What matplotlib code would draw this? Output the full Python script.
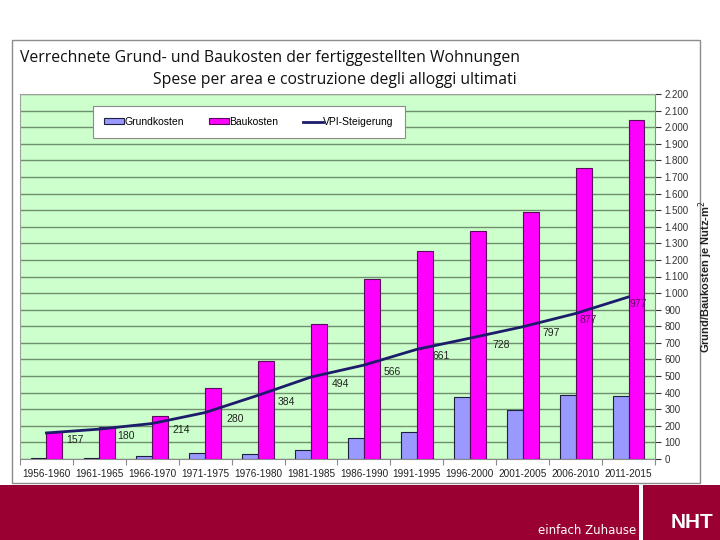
import matplotlib
matplotlib.use("Agg")
import matplotlib.pyplot as plt
from matplotlib.patches import Rectangle
from matplotlib.ticker import FuncFormatter
import numpy as np

categories = ["1956-1960", "1961-1965", "1966-1970", "1971-1975", "1976-1980", "1981-1985",
              "1986-1990", "1991-1995", "1996-2000", "2001-2005", "2006-2010", "2011-2015"]
grundkosten = [5, 8, 20, 36, 28, 54, 127, 163, 373, 295, 386, 380]
baukosten = [160, 190, 260, 430, 590, 815, 1085, 1254, 1374, 1489, 1754, 2043]
vpi = [157, 180, 214, 280, 384, 494, 566, 661, 728, 797, 877, 977]
vpi_labels = ["157", "180", "214", "280", "384", "494", "566", "661", "728", "797", "877", "977"]
label_dx = [0.53, 0.5, 0.55, 0.57, 0.53, 0.55, 0.53, 0.46, 0.6, 0.54, 0.23, 0.19]
yticks = list(range(0, 2201, 100))

ARIAL = "Liberation Sans"

fig = plt.figure(figsize=(7.2, 5.4), dpi=100)

# outer frame
fig.patches.append(Rectangle((12/720, 1-483/540), (700-12)/720, (483-40)/540,
                             transform=fig.transFigure, facecolor="white",
                             edgecolor="#8c8c8c", linewidth=1.0, zorder=-2))
# bottom band
fig.patches.append(Rectangle((0, 0), 639/720, 55/540, transform=fig.transFigure,
                             facecolor="#9a0032", edgecolor="none", zorder=-2))
fig.patches.append(Rectangle((643/720, 0), 77/720, 55/540, transform=fig.transFigure,
                             facecolor="#9a0032", edgecolor="none", zorder=-2))

ax = fig.add_axes([20/720, 1-459/540, 635/720, 365/540])
ax.set_zorder(2)
ax.set_facecolor("#ccffcc")
x = np.arange(len(categories))
w = 0.3
b1 = ax.bar(x - w/2, grundkosten, width=w, color="#9999ff", edgecolor="#1f1f3f", linewidth=0.8,
            label="Grundkosten", zorder=3)
b2 = ax.bar(x + w/2, baukosten, width=w, color="#ff00ff", edgecolor="#5a0a5a", linewidth=0.8,
            label="Baukosten", zorder=3)
l1, = ax.plot(x, vpi, color="#1c1c6b", linewidth=2.0, label="VPI-Steigerung", zorder=4)
for i, (v, t) in enumerate(zip(vpi, vpi_labels)):
    col = "#5a0a5a" if i >= 10 else "#222222"
    ax.text(x[i] + label_dx[i], v - 40, t, ha="center", va="center", fontsize=7.5,
            family=ARIAL, color=col, zorder=5)

ax.set_xlim(-0.5, len(categories) - 0.5)
ax.set_ylim(0, 2200)
ax.yaxis.tick_right()
ax.yaxis.set_label_position("right")
ax.set_yticks(yticks)
ax.yaxis.set_major_formatter(FuncFormatter(lambda v, p: f"{int(v):,}".replace(",", ".")))
ax.tick_params(axis="y", labelsize=7, colors="#333333", length=4, direction="out", pad=3)
for lab in ax.get_yticklabels():
    lab.set_family(ARIAL)
ax.grid(axis="y", color="#6f8f6f", linewidth=1.0, zorder=1)
ax.set_axisbelow(True)

ax.set_xticks(np.arange(-0.5, len(categories), 1.0))
ax.set_xticklabels([])
ax.set_xticks(x, minor=True)
ax.set_xticklabels(categories, minor=True, family=ARIAL)
ax.tick_params(axis="x", which="major", length=4, colors="#8c8c8c")
ax.tick_params(axis="x", which="minor", length=0, labelsize=7.2, labelcolor="#222222", pad=7)

ax.spines["right"].set_color("#8c8c8c")
ax.spines["bottom"].set_color("#8c8c8c")
ax.spines["left"].set_color("#a0a0a0")
ax.spines["top"].set_color("#a0a0a0")

ax.set_ylabel("Grund/Baukosten je Nutz-m$^2$", fontsize=8, fontweight="bold",
              family=ARIAL, color="#222222", labelpad=5)

leg = ax.legend(handles=[b1, b2, l1], loc="upper left", bbox_to_anchor=(73/635, 1-12/365),
                ncol=3, frameon=True, fancybox=False, prop={"family": ARIAL, "size": 7.5},
                edgecolor="#8c8c8c", handlelength=1.9, handleheight=0.55, handletextpad=0.05,
                columnspacing=2.4, borderpad=1.05, borderaxespad=0, framealpha=1.0)
leg.get_frame().set_linewidth(0.8)
leg.set_zorder(6)

fig.text(20/720, 1-58/540, "Verrechnete Grund- und Baukosten der fertiggestellten Wohnungen",
         fontsize=11.3, family="Open Sans", va="center", ha="left", color="#111111")
fig.text(335/720, 1-80/540, "Spese per area e costruzione degli alloggi ultimati",
         fontsize=11.3, family="Open Sans", va="center", ha="center", color="#111111")

fig.text(636/720, 1-530/540, "einfach Zuhause", fontsize=8.5, family="DejaVu Sans Condensed",
         color="white", ha="right", va="center")
fig.text(692/720, 1-523/540, "NHT", fontsize=15, fontweight="bold", family=ARIAL,
         color="white", ha="center", va="center")

fig.savefig("out.png", dpi=100)
